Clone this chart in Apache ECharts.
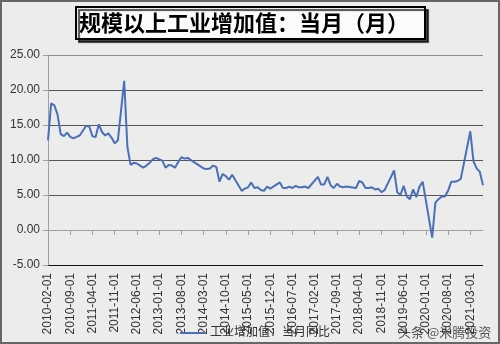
<!DOCTYPE html>
<html>
<head>
<meta charset="utf-8">
<script src="https://cdn.jsdelivr.net/npm/echarts@6/dist/echarts.min.js"></script>
<style>
html,body{margin:0;padding:0;background:#ececec;}
#chart{width:500px;height:344px;}
</style>
</head>
<body>
<div id="chart"></div>
<script>
// Category months: 2010-02 .. 2021-07
const startYear = 2010, startMonth = 2, monthCount = 138;
const categories = [];
for (let k = 0; k < monthCount; k++) {
  const m = startMonth - 1 + k;
  const y = startYear + Math.floor(m / 12);
  const mm = (m % 12) + 1;
  categories.push(y + '-' + (mm < 10 ? '0' + mm : mm) + '-01');
}
// 工业增加值：当月同比 (%), month by month
const v2010 = [12.8, 18.1, 17.8, 16.5, 13.7, 13.4, 13.9, 13.3, 13.1, 13.3, 13.5];
const v2011 = [null, 14.9, 14.8, 13.4, 13.3, 15.1, 14.0, 13.5, 13.8, 13.2, 12.4, 12.8];
const v2012 = [null, 21.3, 11.9, 9.3, 9.6, 9.5, 9.2, 8.9, 9.2, 9.6, 10.1, 10.3];
const v2013 = [null, 9.9, 8.9, 9.3, 9.2, 8.9, 9.7, 10.4, 10.2, 10.3, 10.0, 9.7];
const v2014 = [null, null, 8.8, 8.7, 8.8, 9.2, 9.0, 6.9, 8.0, 7.7, 7.2, 7.9];
const v2015 = [null, null, 5.6, 5.9, 6.1, 6.8, 6.0, 6.1, 5.7, 5.6, 6.2, 5.9];
const v2016 = [null, null, 6.8, 6.0, 6.0, 6.2, 6.0, 6.3, 6.1, 6.1, 6.2, 6.0];
const v2017 = [null, null, 7.6, 6.5, 6.5, 7.6, 6.4, 6.0, 6.6, 6.2, 6.1, 6.2];
const v2018 = [null, null, 6.0, 7.0, 6.8, 6.0, 6.0, 6.1, 5.8, 5.9, 5.4, 5.7];
const v2019 = [null, null, 8.5, 5.4, 5.0, 6.3, 4.8, 4.4, 5.8, 4.7, 6.2, 6.9];
const v2020 = [null, null, -1.1, 3.9, 4.4, 4.8, 4.8, 5.6, 6.9, 6.9, 7.0, 7.3];
const v2021 = [null, null, 14.1, 9.8, 8.8, 8.3, 6.4];
const values = [].concat(v2010, v2011, v2012, v2013, v2014, v2015, v2016, v2017, v2018, v2019, v2020, v2021);

const yTicks = [-5, 0, 5, 10, 15, 20, 25];
const titleText = '规模以上工业增加值：当月（月）';
const seriesName = '工业增加值：当月同比';
const watermark = '头条 @米腾投资';

const FONT = "'Liberation Sans', 'Noto Sans CJK SC', sans-serif";
const chart = echarts.init(document.getElementById('chart'));
chart.setOption({
  backgroundColor: '#ececec',
  animation: false,
  grid: { left: 48, right: 17, top: 55, bottom: 79, containLabel: false },
  xAxis: {
    type: 'category',
    data: categories,
    boundaryGap: false,
    axisLine: { onZero: true, lineStyle: { color: '#a0a0a0', width: 1 } },
    axisTick: { show: true, interval: 6, length: 5, lineStyle: { color: '#a0a0a0' } },
    axisLabel: { interval: 6, rotate: 90, margin: 8, fontSize: 12, color: '#333', fontFamily: FONT }
  },
  yAxis: {
    type: 'value',
    min: yTicks[0], max: yTicks[yTicks.length - 1], interval: 5,
    axisLine: { show: true, lineStyle: { color: '#a0a0a0' } },
    axisTick: { show: true, length: 5, lineStyle: { color: '#a0a0a0' } },
    axisLabel: { formatter: v => v.toFixed(2), fontSize: 12, color: '#333', margin: 8, fontFamily: FONT },
    splitLine: { show: true, lineStyle: { color: ['#111', '#a0a0a0', '#555', '#555', '#555', '#555', '#8a8a8a'], width: 1 } }
  },
  legend: {
    left: 175, top: 322,
    icon: 'rect',
    itemWidth: 25, itemHeight: 2, itemGap: 5,
    textStyle: { fontSize: 12, color: '#333', fontFamily: FONT },
    data: [seriesName]
  },
  series: [{
    name: seriesName,
    type: 'line',
    data: values,
    symbol: 'none',
    connectNulls: true,
    lineStyle: { color: '#4a70b8', width: 2 },
    itemStyle: { color: '#4a70b8' }
  }],
  graphic: [
    { type: 'rect', shape: { x: 1, y: 1, width: 498, height: 342 }, style: { fill: 'none', stroke: '#666', lineWidth: 2 }, silent: true },
    { type: 'rect', shape: { x: 76, y: 7, width: 349, height: 32 },
      style: { fill: '#fbfbfb', stroke: '#000', lineWidth: 2, shadowColor: 'rgba(0,0,0,0.7)', shadowOffsetX: 3, shadowOffsetY: 3, shadowBlur: 1 } },
    { type: 'text', x: 79, y: 23,
      style: { text: titleText, fill: '#000', font: "bold 22px 'Noto Sans CJK SC', sans-serif", textVerticalAlign: 'middle' } },
    { type: 'text', x: 398, y: 332,
      style: { text: watermark, fill: '#555', font: "13px 'Noto Sans CJK SC', sans-serif", textVerticalAlign: 'middle' } }
  ]
});
</script>
</body>
</html>
